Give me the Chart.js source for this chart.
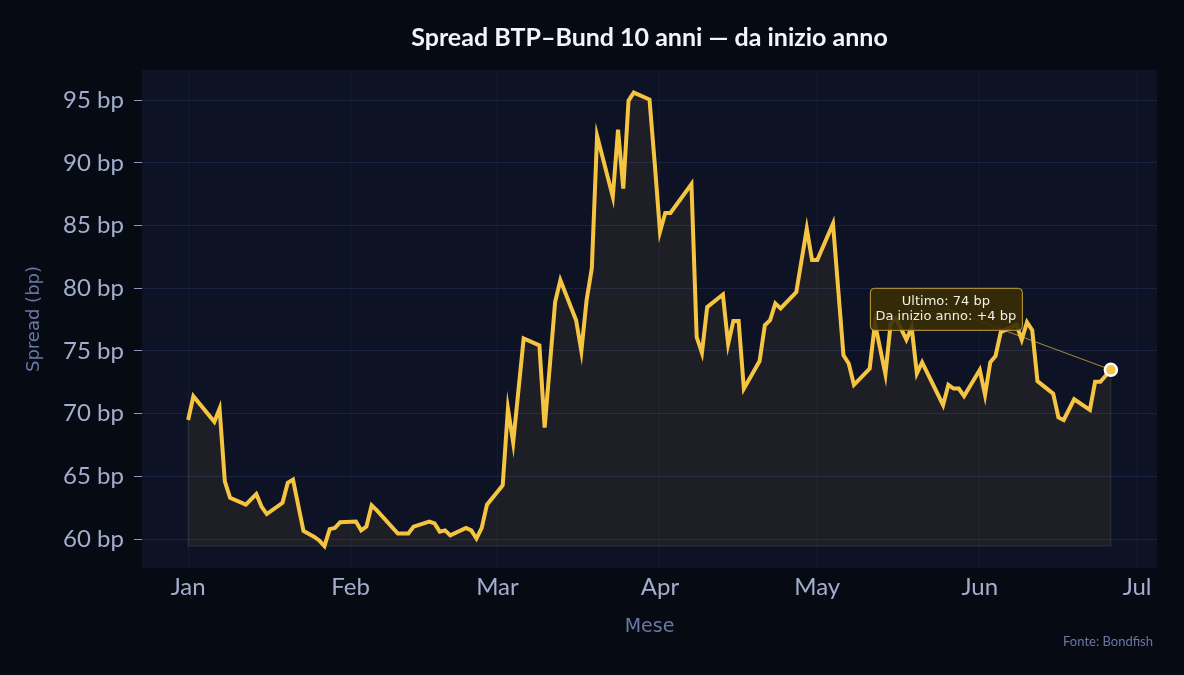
<!DOCTYPE html>
<html>
<head>
<meta charset="utf-8">
<script src="https://cdn.jsdelivr.net/npm/chart.js@4.4.1/dist/chart.umd.min.js"></script>
<style>
html,body{margin:0;padding:0;background:#060a13;}
#wrap{width:1184px;height:675px;position:relative;}
canvas{display:block;}
</style>
</head>
<body>
<div id="wrap"><canvas id="c" width="1184" height="675"></canvas></div>
<script>
// ---- DATA ----
const dates = [
'2025-01-01','2025-01-02','2025-01-06','2025-01-07','2025-01-08','2025-01-09','2025-01-12','2025-01-14','2025-01-15','2025-01-16',
'2025-01-19','2025-01-20','2025-01-21','2025-01-23','2025-01-25','2025-01-26','2025-01-27','2025-01-28','2025-01-29','2025-01-30',
'2025-02-02','2025-02-03','2025-02-04','2025-02-05','2025-02-06','2025-02-10','2025-02-12','2025-02-13','2025-02-16','2025-02-17',
'2025-02-18','2025-02-19','2025-02-20','2025-02-23','2025-02-24','2025-02-25','2025-02-26','2025-02-27','2025-03-02','2025-03-03',
'2025-03-04','2025-03-06','2025-03-09','2025-03-10','2025-03-12','2025-03-13','2025-03-16','2025-03-17','2025-03-18','2025-03-19',
'2025-03-20','2025-03-23','2025-03-24','2025-03-25','2025-03-26','2025-03-27','2025-03-30','2025-03-31','2025-04-01','2025-04-02',
'2025-04-03','2025-04-07','2025-04-08','2025-04-09','2025-04-10','2025-04-13','2025-04-14','2025-04-15','2025-04-16','2025-04-17',
'2025-04-20','2025-04-21','2025-04-22','2025-04-23','2025-04-24','2025-04-27','2025-04-29','2025-04-30','2025-05-01','2025-05-04',
'2025-05-06','2025-05-07','2025-05-08','2025-05-11','2025-05-12','2025-05-14','2025-05-15','2025-05-16','2025-05-18','2025-05-19',
'2025-05-20','2025-05-21','2025-05-25','2025-05-26','2025-05-27','2025-05-28','2025-05-29','2025-06-01','2025-06-02','2025-06-03',
'2025-06-04','2025-06-05','2025-06-07','2025-06-08','2025-06-09','2025-06-10','2025-06-11','2025-06-12','2025-06-15','2025-06-16',
'2025-06-17','2025-06-19','2025-06-22','2025-06-23','2025-06-24','2025-06-26'
];
const spread = [
69.5,71.4,69.35,70.4,64.6,63.3,62.75,63.6,62.6,62.0,
62.9,64.5,64.75,60.65,60.2,59.9,59.45,60.8,60.9,61.35,
61.4,60.7,61.0,62.7,62.3,60.45,60.45,61.0,61.4,61.25,
60.6,60.7,60.3,60.9,60.7,60.05,60.9,62.75,64.3,70.4,
67.7,76.0,75.45,68.9,78.9,80.65,77.45,75.0,79.05,81.6,
92.15,87.3,92.65,87.95,94.95,95.6,95.05,89.95,84.5,86.0,
86.0,88.3,76.1,74.85,78.5,79.5,75.55,77.4,77.4,72.0,
74.2,77.05,77.45,78.8,78.4,79.7,84.75,82.25,82.25,85.15,
74.65,74.0,72.3,73.6,77.2,73.15,77.2,77.6,75.9,76.9,
73.2,74.1,70.7,72.3,72.0,72.0,71.4,73.5,71.5,74.1,
74.6,76.5,76.9,77.1,75.9,77.3,76.65,72.6,71.6,69.7,
69.5,71.15,70.3,72.55,72.55,73.5
];
const monthLabels = ['Jan','Feb','Mar','Apr','May','Jun','Jul'];
const monthStarts = ['2025-01-01','2025-02-01','2025-03-01','2025-04-01','2025-05-01','2025-06-01','2025-07-01'];
const yTickValues = [60,65,70,75,80,85,90,95];

const titleText = 'Spread BTP\u2013Bund 10 anni \u2014 da inizio anno';
const sourceText = 'Fonte: Bondfish';
const xTitle = 'Mese';
const yTitle = 'Spread (bp)';

// ---- helpers ----
const t0 = Date.parse('2025-01-01');
const dayIndex = d => Math.round((Date.parse(d) - t0) / 86400000);
const points = dates.map((d, i) => ({x: dayIndex(d), y: spread[i]}));
const minVal = Math.min(...spread);
const lastIdx = spread.length - 1;

const YELLOW = '#f5c542';

const bgPlugin = {
  id: 'bg',
  beforeDraw(chart) {
    const {ctx, chartArea: a} = chart;
    ctx.save();
    ctx.fillStyle = '#060a13';
    ctx.fillRect(0, 0, chart.width, chart.height);
    ctx.fillStyle = '#0d1224';
    ctx.fillRect(a.left, a.top, a.right - a.left, a.bottom - a.top);
    ctx.restore();
  },
  beforeDatasetsDraw(chart) {
    const {ctx, scales: {x, y}} = chart;
    const px = x.getPixelForValue(points[lastIdx].x);
    const py = y.getPixelForValue(points[lastIdx].y);
    ctx.save();
    ctx.strokeStyle = 'rgba(245,197,66,0.6)';
    ctx.lineWidth = 1.2;
    ctx.beginPath();
    ctx.moveTo(px - 165, py - 61);
    ctx.lineTo(px, py);
    ctx.stroke();
    ctx.restore();
  },
  afterDatasetsDraw(chart) {
    const {ctx, scales: {x, y}} = chart;
    const x0 = x.getPixelForValue(points[0].x);
    const x1 = x.getPixelForValue(points[lastIdx].x);
    const yb = y.getPixelForValue(minVal);
    ctx.save();
    ctx.strokeStyle = 'rgba(255,255,255,0.07)';
    ctx.lineWidth = 1.5;
    ctx.beginPath();
    ctx.moveTo(x0, y.getPixelForValue(points[0].y));
    ctx.lineTo(x0, yb);
    ctx.lineTo(x1, yb);
    ctx.lineTo(x1, y.getPixelForValue(points[lastIdx].y) + 8);
    ctx.stroke();
    ctx.restore();

    const px = x1, py = y.getPixelForValue(points[lastIdx].y);
    const bw = 152, bh = 42;
    const cx = px - 165, cy = py - 61;
    const bx = cx - bw / 2, by = cy - bh / 2;
    ctx.save();
    ctx.beginPath();
    ctx.roundRect(bx + 0.5, by + 0.5, bw, bh, 4);
    ctx.fillStyle = 'rgba(58,46,6,0.9)';
    ctx.fill();
    ctx.strokeStyle = '#c9a43c';
    ctx.lineWidth = 1;
    ctx.stroke();
    ctx.fillStyle = '#f1efe6';
    ctx.font = '13px "DejaVu Sans"';
    ctx.textAlign = 'center';
    ctx.textBaseline = 'middle';
    const lastR = Math.round(spread[lastIdx]);
    const delta = Math.round(spread[lastIdx] - spread[0]);
    ctx.fillText('Ultimo: ' + lastR + ' bp', cx, cy - 7);
    ctx.fillText('Da inizio anno: ' + (delta >= 0 ? '+' : '') + delta + ' bp', cx, cy + 7.5);
    ctx.restore();
  },
  afterDraw(chart) {
    const {ctx, chartArea: a} = chart;
    ctx.save();
    ctx.fillStyle = '#f3f5fa';
    ctx.font = 'bold 25px Lato';
    ctx.textAlign = 'center';
    ctx.textBaseline = 'middle';
    ctx.fillText(titleText, (a.left + a.right) / 2, 38);
    ctx.fillStyle = '#6b77a3';
    ctx.font = '13px Lato';
    ctx.textAlign = 'right';
    ctx.fillText(sourceText, 1153, 642);
    ctx.restore();
  }
};

new Chart(document.getElementById('c'), {
  type: 'line',
  data: {
    datasets: [{
      data: points,
      borderColor: YELLOW,
      borderWidth: 4,
      backgroundColor: 'rgba(245,197,66,0.08)',
      fill: {value: minVal},
      tension: 0,
      pointRadius: ctx => ctx.dataIndex === lastIdx ? 6 : 0,
      pointHoverRadius: ctx => ctx.dataIndex === lastIdx ? 6 : 0,
      pointBackgroundColor: YELLOW,
      pointBorderColor: '#ffffff',
      pointBorderWidth: 2.5
    }]
  },
  options: {
    responsive: false,
    animation: false,
    events: [],
    layout: {padding: {top: 70, right: 27, bottom: 37, left: 0}},
    plugins: {legend: {display: false}, tooltip: {enabled: false}, title: {display: false}},
    scales: {
      x: {
        type: 'linear',
        min: -8.8,
        max: 184.8,
        afterFit: s => { s.height = 70; },
        afterBuildTicks: s => { s.ticks = monthStarts.map(d => ({value: dayIndex(d)})); },
        ticks: {
          autoSkip: false,
          maxRotation: 0,
          padding: 5,
          color: '#a3aecd',
          font: {family: 'Lato', size: 24},
          callback: (v, i) => monthLabels[i]
        },
        grid: {color: '#141b33', drawTicks: false, lineWidth: 1},
        border: {display: false},
        title: {display: true, text: xTitle, color: '#6b77a3', font: {family: 'DejaVu Sans', size: 19}, padding: {top: 0, bottom: 0}}
      },
      y: {
        min: 57.7,
        max: 97.4,
        afterFit: s => { s.width = 142; },
        afterBuildTicks: s => { s.ticks = yTickValues.map(v => ({value: v})); },
        ticks: {
          padding: 10,
          color: '#a3aecd',
          font: {family: 'Lato', size: 24},
          callback: v => v + ' bp'
        },
        grid: {color: '#1b2240', tickColor: '#8d98bb', tickLength: 8, lineWidth: 1},
        border: {display: false},
        title: {display: true, text: yTitle, color: '#6b77a3', font: {family: 'DejaVu Sans', size: 18}, padding: {top: 24, bottom: 0}}
      }
    }
  },
  plugins: [bgPlugin]
});
</script>
</body>
</html>
